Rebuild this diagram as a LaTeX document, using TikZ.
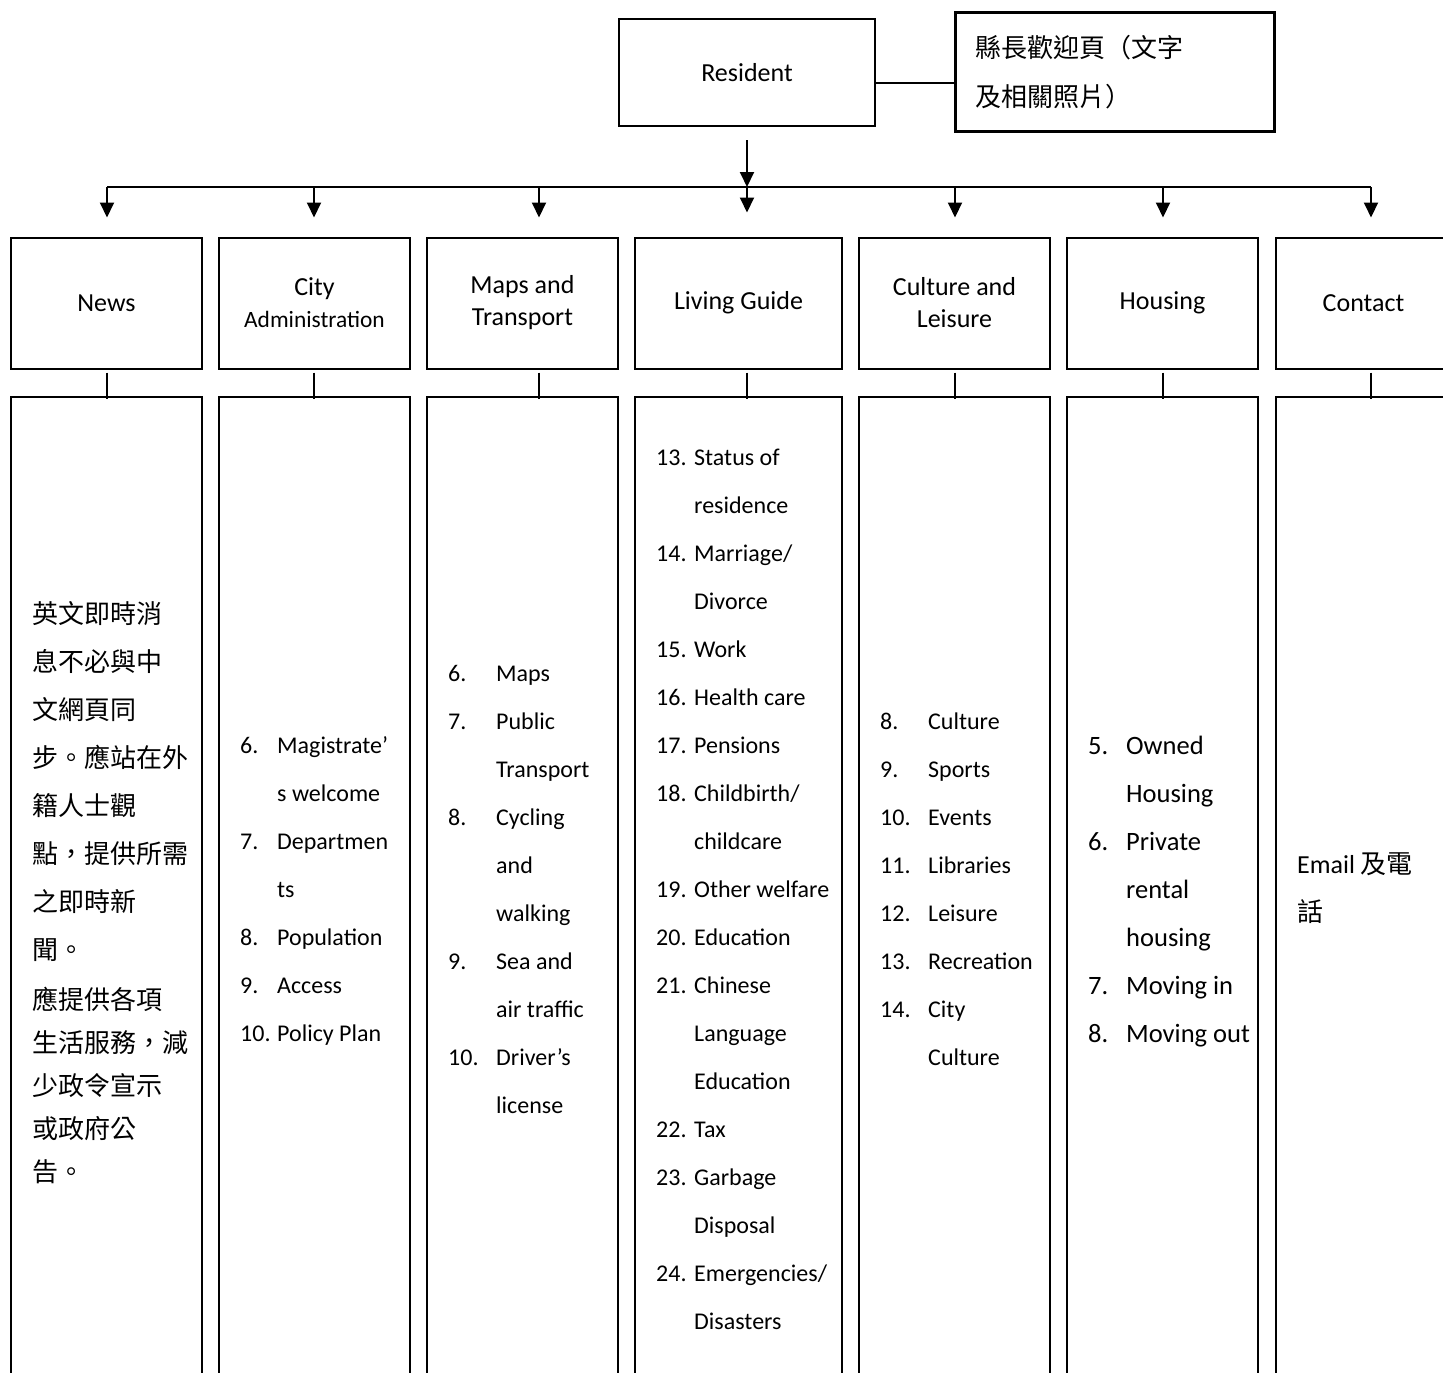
\documentclass[tikz,border=0pt]{standalone}
\usepackage{fontspec}
\usepackage{array}
\setmainfont{Carlito}
\newfontfamily\cjk{Noto Sans CJK TC}
\usetikzlibrary{arrows.meta}

\tikzset{
  headbox/.style={draw, line width=2pt, inner sep=0pt, minimum width=191pt, minimum height=131pt,
    align=center, font=\fontsize{26}{32}\selectfont},
  bodybox/.style={draw, line width=2pt, inner sep=0pt, minimum width=191pt, minimum height=1000pt, anchor=north},
  drop/.style={line width=2pt, -{Triangle[length=15pt,width=14pt]}},
  tick/.style={line width=2pt},
  listtext/.style={anchor=base west, inner sep=0pt},
}

\begin{document}
\begin{tikzpicture}[x=1pt, y=-1pt]
    \path[use as bounding box, fill=white] (0,0) rectangle (1443,1373);
    \clip (0,0) rectangle (1443,1373);

    \node[draw, line width=2pt, minimum width=256pt, minimum height=107pt, font=\fontsize{26}{32}\selectfont]
      (resident) at (747,72.5) {Resident};
    \node[draw, line width=3pt, minimum width=319pt, minimum height=119pt] (welcome) at (1114.5,71.5) {};
    \node[listtext] (welcometext) at (975,57) {\cjk\fontsize{26}{49}\selectfont
      \begin{tabular}[t]{@{}l@{}}縣長歡迎頁（文字\\及相關照片）\end{tabular}};
    \coordinate (link) at (915,83);
    \draw[tick] (resident.east |- link) -- (welcome.west |- link);

    \node[headbox] (news) at (106.5,303) {News};
    \node[headbox] (cityadm) at (314.5,303) {City\\{\fontsize{23.4}{32}\selectfont Administration}};
    \node[headbox] (maps) at (522.5,303) {Maps and\\Transport};
    \node[headbox, minimum width=207pt] (living) at (738.5,303) {Living Guide};
    \node[headbox] (culture) at (954.5,303) {Culture and\\Leisure};
    \node[headbox] (housing) at (1162.5,303) {Housing};
    \node[headbox, minimum width=175pt] (contact) at (1363.5,303) {Contact};

    \node[bodybox] (newsbody) at (106.5,396) {};
    \node[bodybox] (cityadmbody) at (314.5,396) {};
    \node[bodybox] (mapsbody) at (522.5,396) {};
    \node[bodybox, minimum width=207pt] (livingbody) at (738.5,396) {};
    \node[bodybox] (culturebody) at (954.5,396) {};
    \node[bodybox] (housingbody) at (1162.5,396) {};
    \node[bodybox, minimum width=175pt] (contactbody) at (1363.5,396) {};

    \coordinate (bus) at (747,187);
    \coordinate (b1) at (107,187);
    \coordinate (b2) at (314,187);
    \coordinate (b3) at (539,187);
    \coordinate (b4) at (747,187);
    \coordinate (b5) at (955,187);
    \coordinate (b6) at (1163,187);
    \coordinate (b7) at (1371,187);
    \draw[drop] ([yshift=-13pt]resident.south) -- (bus);
    \draw[tick] (b1) -- (b7);
    \draw[drop, shorten >=19pt] (b1) -- (b1 |- news.north);
    \draw[drop, shorten >=19pt] (b2) -- (b2 |- cityadm.north);
    \draw[drop, shorten >=19pt] (b3) -- (b3 |- maps.north);
    \draw[drop, shorten >=24pt] (b4) -- (b4 |- living.north);
    \draw[drop, shorten >=19pt] (b5) -- (b5 |- culture.north);
    \draw[drop, shorten >=19pt] (b6) -- (b6 |- housing.north);
    \draw[drop, shorten >=19pt] (b7) -- (b7 |- contact.north);
    \draw[tick, shorten <=3pt, shorten >=-3pt] (b1 |- news.south) -- (b1 |- newsbody.north);
    \draw[tick, shorten <=3pt, shorten >=-3pt] (b2 |- cityadm.south) -- (b2 |- cityadmbody.north);
    \draw[tick, shorten <=3pt, shorten >=-3pt] (b3 |- maps.south) -- (b3 |- mapsbody.north);
    \draw[tick, shorten <=3pt, shorten >=-3pt] (b4 |- living.south) -- (b4 |- livingbody.north);
    \draw[tick, shorten <=3pt, shorten >=-3pt] (b5 |- culture.south) -- (b5 |- culturebody.north);
    \draw[tick, shorten <=3pt, shorten >=-3pt] (b6 |- housing.south) -- (b6 |- housingbody.north);
    \draw[tick, shorten <=3pt, shorten >=-3pt] (b7 |- contact.south) -- (b7 |- contactbody.north);

    \node[listtext] (newstext) at (32,623) {\cjk\fontsize{26}{48}\selectfont
      \begin{tabular}[t]{@{}l@{}}
        英文即時消\\息不必與中\\文網頁同\\步。應站在外\\籍人士觀\\點，提供所需\\之即時新\\聞。\\[2pt]
        應提供各項\\[-5pt]生活服務，減\\[-5pt]少政令宣示\\[-5pt]或政府公\\[-5pt]告。
      \end{tabular}};
    \node[listtext] (cityadmtext) at (240,753) {\fontsize{24}{48}\selectfont
      \begin{tabular}[t]{@{}p{37pt}@{}l@{}}
        6. & Magistrate’\\ & s welcome\\ 7. & Departmen\\ & ts\\ 8. & Population\\ 9. & Access\\ 10. & Policy Plan
      \end{tabular}};
    \node[listtext] (mapstext) at (448,681) {\fontsize{24}{48}\selectfont
      \begin{tabular}[t]{@{}p{48pt}@{}l@{}}
        6. & Maps\\ 7. & Public\\ & Transport\\ 8. & Cycling\\ & and\\ & walking\\ 9. & Sea and\\ & air traffic\\
        10. & Driver’s\\ & license
      \end{tabular}};
    \node[listtext] (livingtext) at (656,465) {\fontsize{24}{48}\selectfont
      \begin{tabular}[t]{@{}p{38pt}@{}l@{}}
        13. & Status of\\ & residence\\ 14. & Marriage/\\ & Divorce\\ 15. & Work\\ 16. & Health care\\ 17. & Pensions\\
        18. & Childbirth/\\ & childcare\\ 19. & Other welfare\\ 20. & Education\\ 21. & Chinese\\ & Language\\ & Education\\
        22. & Tax\\ 23. & Garbage\\ & Disposal\\ 24. & Emergencies/\\ & Disasters
      \end{tabular}};
    \node[listtext] (culturetext) at (880,729) {\fontsize{24}{48}\selectfont
      \begin{tabular}[t]{@{}p{48pt}@{}l@{}}
        8. & Culture\\ 9. & Sports\\ 10. & Events\\ 11. & Libraries\\ 12. & Leisure\\ 13. & Recreation\\ 14. & City\\ & Culture
      \end{tabular}};
    \node[listtext] (housingtext) at (1088,754) {\fontsize{26.5}{48}\selectfont
      \begin{tabular}[t]{@{}p{38pt}@{}l@{}}
        5. & Owned\\ & Housing\\ 6. & Private\\ & rental\\ & housing\\ 7. & Moving in\\ 8. & Moving out
      \end{tabular}};
    \node[listtext] (contacttext) at (1297,873) {\fontsize{26}{48}\selectfont
      \begin{tabular}[t]{@{}l@{}}Email {\cjk 及電}\\{\cjk 話}\end{tabular}};
\end{tikzpicture}
\end{document}
